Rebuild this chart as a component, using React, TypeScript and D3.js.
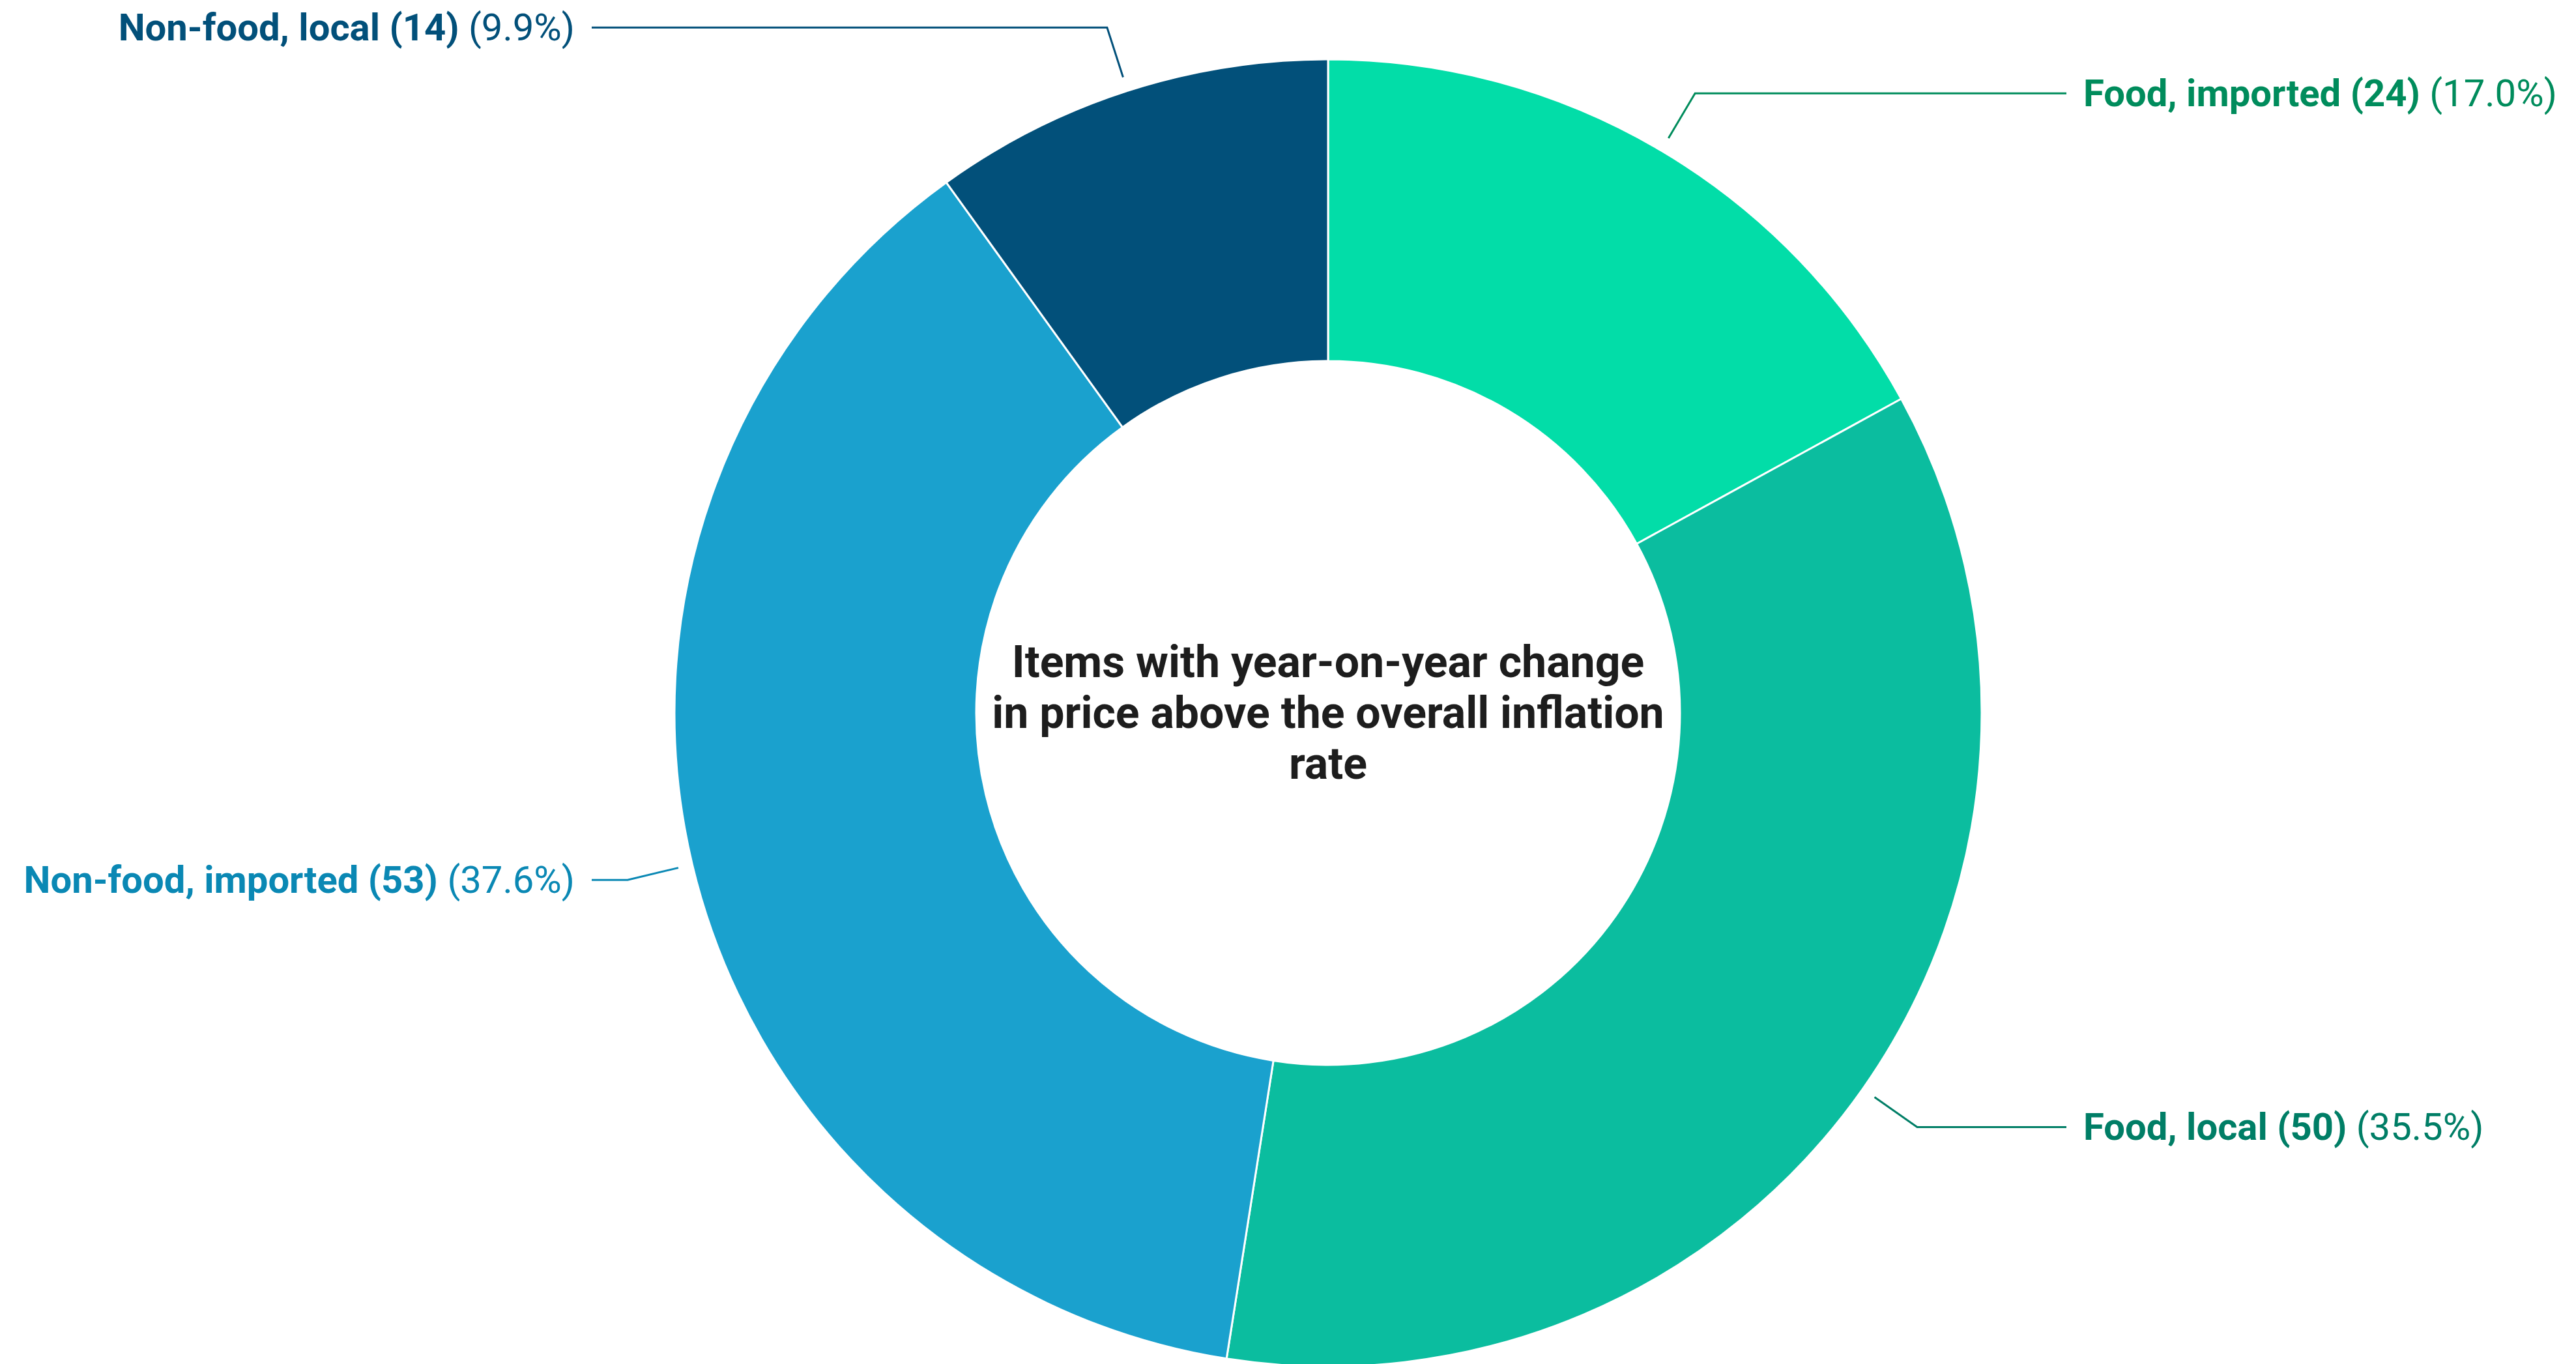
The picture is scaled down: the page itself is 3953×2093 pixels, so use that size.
import React from "react";
import * as d3 from "d3";

const categories = ["Food, imported", "Food, local", "Non-food, imported", "Non-food, local"];
const counts = [24, 50, 53, 14];
const sliceColors = ["#02DDA8", "#0BBD9F", "#1AA1CE", "#02507A"];
const labelColors = ["#008C5C", "#007E66", "#0A88B4", "#02507A"];
const centerTitle = ["Items with year-on-year change", "in price above the overall inflation", "rate"];

const W = 3953;
const H = 2093;
const cx = 2038;
const cy = 1094;
const outerR = 1003;
const innerR = 540;
const leadR0 = 1025;
const leadR1 = 1105;
const rightLineX = 3171;
const leftLineX = 908;
const labelGap = 26;
const labelFont = 58;
const titleFont = 68;
const titleLineH = 78;

export default function App() {
  const total = d3.sum(counts);
  const pie = d3
    .pie<number>()
    .sort(null)
    .value((d) => d);
  const arcs = pie(counts);
  const arc = d3.arc<d3.PieArcDatum<number>>().innerRadius(innerR).outerRadius(outerR);
  const fmt = d3.format(".1f");

  return (
    <svg
      width={W}
      height={H}
      style={{ position: "absolute", left: 0, top: 0, display: "block", background: "#fff" }}
      fontFamily="Roboto, 'Noto Sans', sans-serif"
    >
      <g transform={`translate(${cx},${cy})`}>
        {arcs.map((a, i) => (
          <path key={i} d={arc(a) || ""} fill={sliceColors[i]} stroke="#ffffff" strokeWidth={3} />
        ))}
      </g>
      {arcs.map((a, i) => {
        const mid = (a.startAngle + a.endAngle) / 2;
        const sx = Math.sin(mid);
        const sy = -Math.cos(mid);
        const x0 = cx + leadR0 * sx;
        const y0 = cy + leadR0 * sy;
        const x1 = cx + leadR1 * sx;
        const y1 = cy + leadR1 * sy;
        const right = sx >= 0;
        const x2 = right ? rightLineX : leftLineX;
        const tx = right ? x2 + labelGap : x2 - labelGap;
        const pct = fmt((counts[i] / total) * 100);
        return (
          <g key={i}>
            <polyline
              points={`${x0},${y0} ${x1},${y1} ${x2},${y1}`}
              fill="none"
              stroke={labelColors[i]}
              strokeWidth={3}
            />
            <text
              x={tx}
              y={y1}
              dominantBaseline="central"
              textAnchor={right ? "start" : "end"}
              fontSize={labelFont}
              fill={labelColors[i]}
            >
              <tspan fontWeight="bold">{`${categories[i]} (${counts[i]})`}</tspan>
              <tspan fontWeight="normal">{` (${pct}%)`}</tspan>
            </text>
          </g>
        );
      })}
      <text
        x={cx}
        textAnchor="middle"
        fontSize={titleFont}
        fontWeight="bold"
        fill="#1d1d1d"
      >
        {centerTitle.map((t, i) => (
          <tspan key={i} x={cx} y={cy - titleLineH + i * titleLineH} dominantBaseline="central">
            {t}
          </tspan>
        ))}
      </text>
    </svg>
  );
}
